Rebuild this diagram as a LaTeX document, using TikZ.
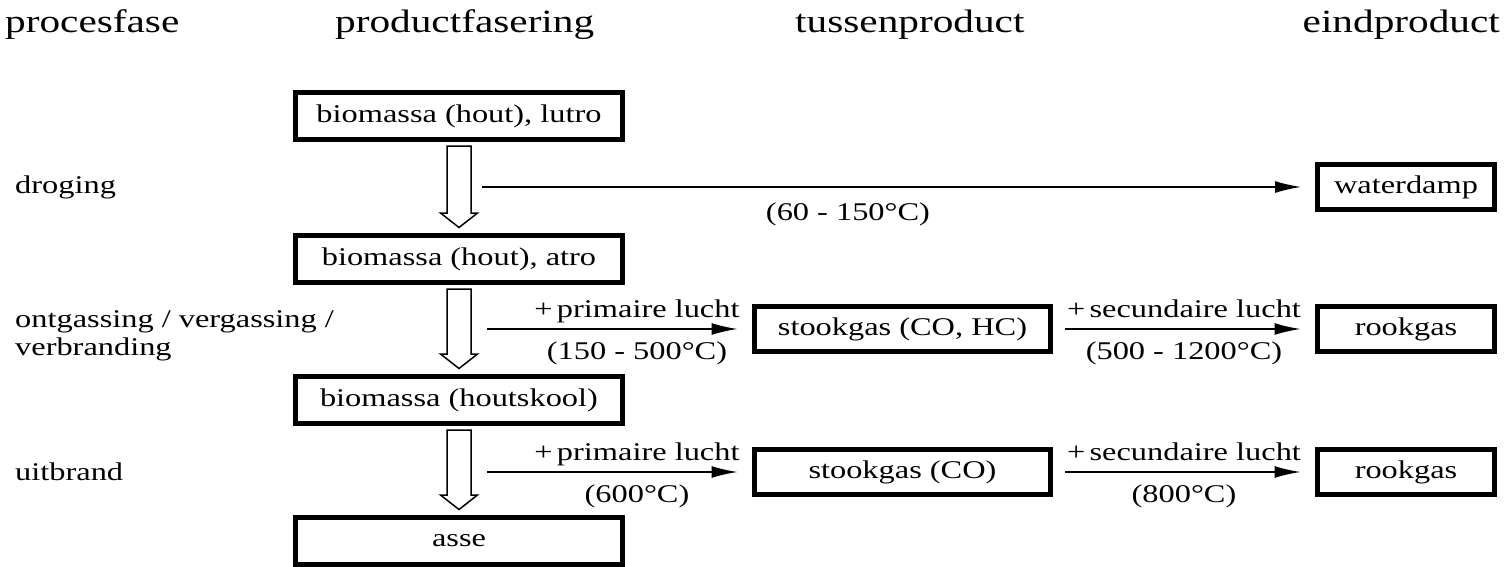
\documentclass[tikz,border=0pt]{standalone}
\usepackage{fontspec}
\setmainfont[FakeStretch=1.27]{Liberation Serif}
\usetikzlibrary{arrows.meta,calc}
\newcommand\hollowdown[2]{%
  \draw[hollowarrow] ($(#1.south)+(-12,4)$) -- ($(#2.north)+(-12,-20)$) -- ($(#2.north)+(-18.5,-20)$)
    -- ($(#2.north)+(0,-5.5)$) -- ($(#2.north)+(18.5,-20)$) -- ($(#2.north)+(12,-20)$)
    -- ($(#1.south)+(12,4)$) -- cycle;}
\begin{document}
\begin{tikzpicture}[x=1pt,y=-1pt,
  box/.style={draw,line width=5pt,inner sep=0pt,font=\fontsize{25.5}{28}\selectfont},
  bigbox/.style={box,minimum width=327pt,minimum height=47pt},
  midbox/.style={box,minimum width=296pt,minimum height=45pt},
  endbox/.style={box,minimum width=177pt,minimum height=45pt},
  hdr/.style={font=\fontsize{32.5}{35}\selectfont,inner sep=0pt},
  lbl/.style={font=\fontsize{25.5}{28}\selectfont,inner sep=0pt},
  flow/.style={line width=1.5pt,-{Latex[length=26pt,width=12pt]}},
  hollowarrow/.style={draw,line width=1.5pt,line join=miter}
]
\useasboundingbox (0,0) rectangle (1506,567);

% headers
\node[hdr,anchor=base west] (h1) at (5,33) {procesfase};
\node[hdr,anchor=base west] (h2) at (335,33) {productfasering};
\node[hdr,anchor=base west] (h3) at (795,33) {tussenproduct};
\node[hdr,anchor=base east] (h4) at (1500,33) {eindproduct};

% row labels
\node[lbl,anchor=west] (r1) at (15,187) {droging};
\node[lbl,anchor=west,align=left] (r2) at (15,336) {ontgassing / vergassing /\\verbranding};
\node[lbl,anchor=west] (r3) at (15,472) {uitbrand};

% product column
\node[bigbox] (lutro) at (459,116) {biomassa (hout), lutro};
\node[bigbox] (atro) at (459,259) {biomassa (hout), atro};
\node[bigbox] (kool) at (459,400) {biomassa (houtskool)};
\node[bigbox] (asse) at (459,541) {asse};

\hollowdown{lutro}{atro}
\hollowdown{atro}{kool}
\hollowdown{kool}{asse}

% intermediate and end products
\node[endbox] (water) at (1406,187) {waterdamp};
\node[midbox] (sg1) at (902.5,329) {stookgas (CO, HC)};
\node[endbox] (rg1) at (1406,329) {rookgas};
\node[midbox] (sg2) at (902.5,472) {stookgas (CO)};
\node[endbox] (rg2) at (1406,472) {rookgas};

% droging
\coordinate (d0) at (482,187);
\draw[flow,shorten >=14pt] (d0) -- (water.west);
\node[lbl,anchor=base] (t0) at (848,220) {(60 - 150°C)};

% row 2
\coordinate (p1) at (487,329);
\draw[flow,shorten >=14.5pt] (p1) -- (sg1.west);
\node[lbl,anchor=base] (a1) at (637,317.5) {+\,primaire lucht};
\node[lbl,anchor=base] (b1) at (637,359) {(150 - 500°C)};
\draw[flow,shorten <=12pt,shorten >=14.5pt] (sg1.east) -- (rg1.west);
\node[lbl,anchor=base] (c1) at (1184,317.5) {+\,secundaire lucht};
\node[lbl,anchor=base] (e1) at (1184,359) {(500 - 1200°C)};

% row 3
\coordinate (p2) at (487,472);
\draw[flow,shorten >=14.5pt] (p2) -- (sg2.west);
\node[lbl,anchor=base] (a2) at (637,460.5) {+\,primaire lucht};
\node[lbl,anchor=base] (b2) at (637,502) {(600°C)};
\draw[flow,shorten <=12pt,shorten >=14.5pt] (sg2.east) -- (rg2.west);
\node[lbl,anchor=base] (c2) at (1184,460.5) {+\,secundaire lucht};
\node[lbl,anchor=base] (e2) at (1184,502) {(800°C)};
\end{tikzpicture}
\end{document}
